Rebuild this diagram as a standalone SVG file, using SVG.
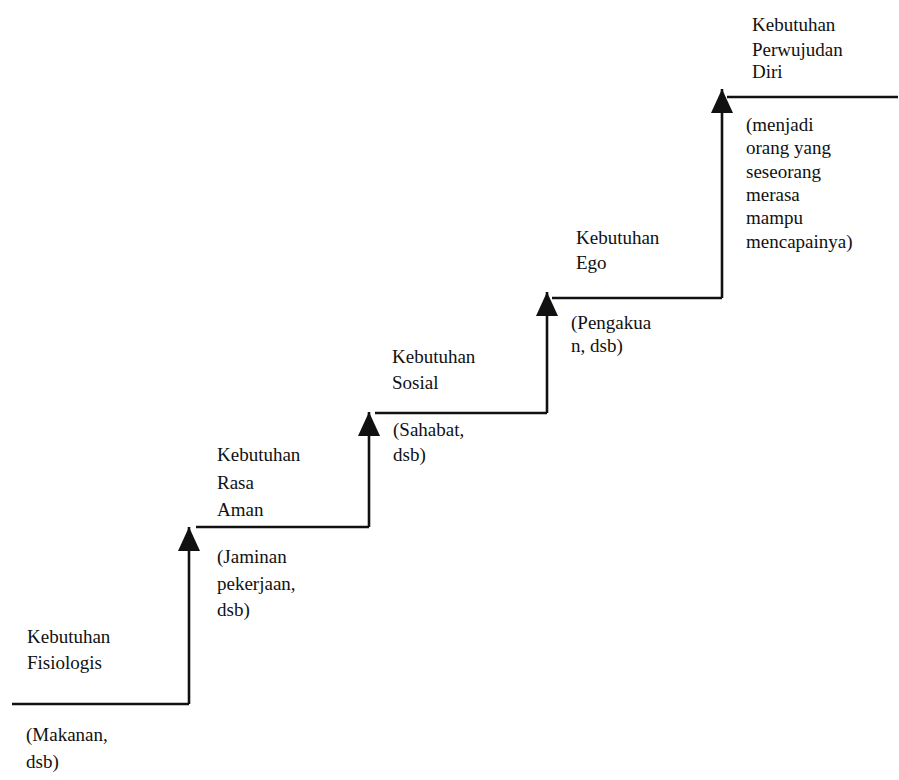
<svg xmlns="http://www.w3.org/2000/svg" width="899" height="780" viewBox="0 0 899 780">
<style>
text{font-family:"Liberation Serif","Times New Roman",serif;font-size:19px;fill:#111}
.ln{stroke:#111;stroke-width:2.6;fill:none}
</style>
<defs>
<marker id="ah" markerUnits="userSpaceOnUse" markerWidth="24" markerHeight="22" refX="24" refY="11" orient="auto">
<path d="M0,0 L24,11 L0,22 z" fill="#111"/>
</marker>
</defs>
<rect width="899" height="780" fill="#fff"/>
<g id="connectors">
<polyline class="ln" points="12,704 189,704"/>
<line class="ln" x1="189" y1="704" x2="189" y2="527" marker-end="url(#ah)"/>
<polyline class="ln" points="196,527 369,527"/>
<line class="ln" x1="369" y1="527" x2="369" y2="412" marker-end="url(#ah)"/>
<polyline class="ln" points="375,413 547,413"/>
<line class="ln" x1="547" y1="413" x2="547" y2="292" marker-end="url(#ah)"/>
<polyline class="ln" points="552,298 722,298"/>
<line class="ln" x1="722" y1="298" x2="722" y2="89" marker-end="url(#ah)"/>
<polyline class="ln" points="727,97 898,97"/>
</g>
<g id="fisiologis">
<text x="27" y="643">Kebutuhan</text>
<text x="27" y="669">Fisiologis</text>
<text x="26" y="741">(Makanan,</text>
<text x="26" y="768">dsb)</text>
</g>
<g id="rasa-aman">
<text x="217" y="461">Kebutuhan</text>
<text x="217" y="489">Rasa</text>
<text x="217" y="516">Aman</text>
<text x="217" y="563">(Jaminan</text>
<text x="217" y="590">pekerjaan,</text>
<text x="217" y="616">dsb)</text>
</g>
<g id="sosial">
<text x="392" y="363">Kebutuhan</text>
<text x="392" y="389">Sosial</text>
<text x="393" y="436">(Sahabat,</text>
<text x="393" y="461">dsb)</text>
</g>
<g id="ego">
<text x="576" y="244">Kebutuhan</text>
<text x="576" y="269">Ego</text>
<text x="571" y="329">(Pengakua</text>
<text x="571" y="352">n, dsb)</text>
</g>
<g id="perwujudan-diri">
<text x="752" y="31">Kebutuhan</text>
<text x="752" y="56">Perwujudan</text>
<text x="752" y="78">Diri</text>
<text x="746" y="131">(menjadi</text>
<text x="746" y="154">orang yang</text>
<text x="746" y="178">seseorang</text>
<text x="746" y="201">merasa</text>
<text x="746" y="224">mampu</text>
<text x="746" y="248">mencapainya)</text>
</g>
</svg>
